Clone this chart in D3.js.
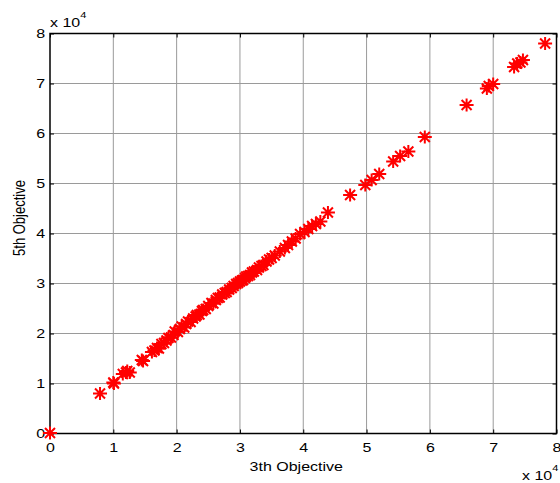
<!DOCTYPE html>
<html>
<head>
<meta charset="utf-8">
<script src="https://cdn.jsdelivr.net/npm/d3@7"></script>
<style>
  body { margin: 0; background: #fff; }
  text { font-family: "Liberation Sans", Arial, sans-serif; fill: #000; }
</style>
</head>
<body>
<div id="chart"></div>
<script>
// values of the 3th and 5th objectives (x 10^4)
var obj3 = [0, 0.79, 1.0, 1.01, 1.15, 1.2, 1.22, 1.26, 1.45, 1.47, 1.61, 1.65, 1.69, 1.72, 1.76, 1.8, 1.84, 1.87, 1.91, 1.95,
            1.97, 2.02, 2.05, 2.08, 2.12, 2.15, 2.18, 2.22, 2.26, 2.3, 2.32, 2.36, 2.4, 2.42, 2.46, 2.5, 2.55, 2.58, 2.62, 2.65,
            2.68, 2.72, 2.76, 2.79, 2.83, 2.87, 2.9, 2.94, 2.97, 3.0, 3.03, 3.05, 3.08, 3.1, 3.13, 3.16, 3.19, 3.22, 3.27, 3.3,
            3.34, 3.37, 3.42, 3.46, 3.5, 3.55, 3.63, 3.71, 3.76, 3.82, 3.88, 3.95, 4.02, 4.08, 4.14, 4.2, 4.27, 4.39, 4.74, 4.98,
            5.08, 5.2, 5.42, 5.53, 5.66, 5.92, 6.58, 6.9, 6.93, 7.0, 7.33, 7.38, 7.43, 7.47, 7.82];
var obj5 = [0.01, 0.80, 1.02, 1.0, 1.19, 1.22, 1.25, 1.22, 1.47, 1.45, 1.63, 1.66, 1.71, 1.70, 1.79, 1.81, 1.86, 1.91, 1.92, 1.97,
            2.04, 2.03, 2.09, 2.14, 2.12, 2.19, 2.24, 2.23, 2.3, 2.34, 2.37, 2.38, 2.45, 2.47, 2.49, 2.55, 2.61, 2.6, 2.67, 2.71,
            2.72, 2.78, 2.81, 2.83, 2.88, 2.91, 2.95, 2.99, 3.01, 3.04, 3.06, 3.07, 3.11, 3.14, 3.15, 3.17, 3.22, 3.24, 3.27, 3.32,
            3.35, 3.37, 3.44, 3.48, 3.51, 3.56, 3.64, 3.71, 3.77, 3.84, 3.9, 3.99, 4.03, 4.09, 4.15, 4.19, 4.24, 4.42, 4.77, 4.97,
            5.07, 5.19, 5.44, 5.55, 5.64, 5.93, 6.57, 6.9, 6.95, 6.99, 7.33, 7.4, 7.42, 7.47, 7.8];
var ticks = [0, 10000, 20000, 30000, 40000, 50000, 60000, 70000, 80000];
var tickLabels = ["0", "1", "2", "3", "4", "5", "6", "7", "8"];

var full_width = 560, full_height = 483;
var margin = {'top': 33.5, 'right': 3.5, 'bottom': 49.5, 'left': 50};
var width = full_width - margin.left - margin.right;
var height = full_height - margin.top - margin.bottom;
var sx = 1.23;   // the figure is stretched sideways, text too

var data = obj3.map(function(d, i) { return {x: d * 10000, y: obj5[i] * 10000}; });

var x = d3.scaleLinear().domain([0, 80000]).range([0, width]);
var y = d3.scaleLinear().domain([0, 80000]).range([height, 0]);

var svg = d3.select("#chart")
            .append("svg")
            .attr("width", full_width)
            .attr("height", full_height);

var g = svg.append("g")
           .attr("transform", "translate(" + margin.left + "," + margin.top + ")");

// grid
g.append("g").selectAll("line")
  .data(ticks.slice(1, -1)).enter().append("line")
  .attr("x1", d => x(d)).attr("x2", d => x(d))
  .attr("y1", 0).attr("y2", height)
  .attr("stroke", "#9a9a9a").attr("stroke-width", 1);
g.append("g").selectAll("line")
  .data(ticks.slice(1, -1)).enter().append("line")
  .attr("y1", d => y(d)).attr("y2", d => y(d))
  .attr("x1", 0).attr("x2", width)
  .attr("stroke", "#9a9a9a").attr("stroke-width", 1);

// axes (ticks inside, MATLAB style)
var fmt = function(d) { return tickLabels[ticks.indexOf(d)]; };
var xAxis = d3.axisBottom(x).tickValues(ticks).tickSizeInner(-4).tickSizeOuter(0).tickPadding(9).tickFormat(fmt);
var yAxis = d3.axisLeft(y).tickValues(ticks).tickSizeInner(-4).tickSizeOuter(0).tickPadding(4).tickFormat(fmt);

var gx = g.append("g").attr("transform", "translate(0," + height + ")").call(xAxis);
var gy = g.append("g").call(yAxis);
g.append("g").call(d3.axisTop(x).tickValues(ticks).tickSizeInner(-4).tickSizeOuter(0).tickFormat(""));
g.append("g").attr("transform", "translate(" + width + ",0)")
  .call(d3.axisRight(y).tickValues(ticks).tickSizeInner(-4).tickSizeOuter(0).tickFormat(""));

g.selectAll(".domain").remove();
g.selectAll(".tick line").attr("stroke", "#000");
[gx, gy].forEach(a => a.selectAll("text")
  .style("font-family", "Liberation Sans, Arial, sans-serif")
  .style("font-size", "13px").attr("fill", "#000")
  .attr("transform", "scale(" + sx + ",1)"));

// box
g.append("rect")
  .attr("x", 0).attr("y", 0).attr("width", width).attr("height", height)
  .attr("fill", "none").attr("stroke", "#000").attr("stroke-width", 1.5);

// asterisk markers
var r = 7, rv = 6.5, rd = 5;
var star = "M" + (-r) + ",0L" + r + ",0M0," + (-rv) + "L0," + rv +
           "M" + (-rd) + "," + (-rd) + "L" + rd + "," + rd +
           "M" + (-rd) + "," + rd + "L" + rd + "," + (-rd);

g.append("g").selectAll("path")
  .data(data).enter().append("path")
  .attr("d", star)
  .attr("transform", d => "translate(" + x(d.x) + "," + y(d.y) + ")")
  .attr("fill", "none")
  .attr("stroke", "#ff0000")
  .attr("stroke-width", 2);

// labels
svg.append("text")
   .attr("transform", "translate(" + (margin.left + width / 2 - 7) + ",471) scale(" + sx + ",1)")
   .attr("text-anchor", "middle").style("font-size", "13px")
   .text("3th Objective");

svg.append("text")
   .attr("transform", "translate(25,218) scale(" + sx + ",1) rotate(-90)")
   .attr("text-anchor", "middle").style("font-size", "13px")
   .text("5th Objective");

// exponent labels
function expLabel(xp, yp) {
  var t = svg.append("text")
             .attr("transform", "translate(" + xp + "," + yp + ") scale(" + sx + ",1)")
             .style("font-size", "13px");
  t.append("tspan").text("x 10");
  t.append("tspan").attr("dy", -9).style("font-size", "9px").text("4");
}
expLabel(50, 27);
expLabel(522, 480);
</script>
</body>
</html>
